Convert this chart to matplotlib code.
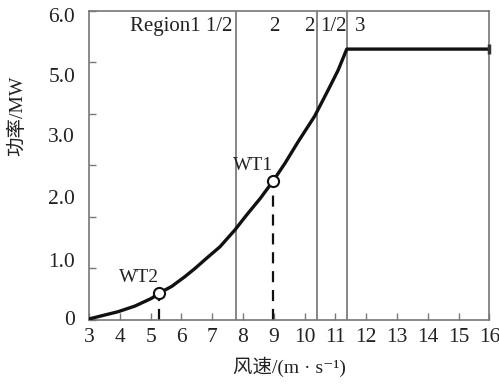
import matplotlib
matplotlib.use("Agg")
import matplotlib.pyplot as plt

plt.rcParams['font.family'] = ['Liberation Serif', 'Noto Sans CJK SC', 'DejaVu Sans']

# data
wind = [3.0, 3.40, 3.94, 4.49, 5.03, 5.27, 5.68, 6.11, 6.44, 6.82, 7.25, 7.74, 8.12,
        8.56, 8.98, 9.36, 9.79, 10.33, 10.77, 11.09, 11.37, 16.0]
power = [0.02, 0.08, 0.16, 0.27, 0.42, 0.52, 0.65, 0.84, 1.00, 1.20, 1.42, 1.75, 2.04,
         2.36, 2.70, 3.04, 3.46, 3.96, 4.47, 4.85, 5.26, 5.26]
region_bounds = [7.77, 10.39, 11.39]
pts_x = [5.27, 8.98]
pts_y = [0.52, 2.70]
pts_lab = ['WT2', 'WT1']
xticks = list(range(3, 17))
ytick_marks = [0, 1, 2, 3, 4, 5, 6]
ylab_pos = [0.04, 1.17, 2.39, 3.59, 4.76, 5.93]
ylab_txt = ['0', '1.0', '2.0', '3.0', '5.0', '6.0']
region_txt = [('Region1 1/2', 7.64, 'right'), ('2', 9.03, 'center'), ('2', 10.17, 'center'),
              ('1/2', 10.95, 'center'), ('3', 11.8, 'center')]

fig = plt.figure(figsize=(4.99, 3.84), dpi=100)
ax = fig.add_axes([0.1784, 0.1667, 0.9806 - 0.1784, 0.9714 - 0.1667])

spine_c = '#777777'
txt_c = '#222222'
for s in ax.spines.values():
    s.set_color(spine_c)
    s.set_linewidth(1.2)

for xb in region_bounds:
    ax.axvline(xb, color='#666666', lw=1.1, zorder=1)

ax.plot(wind, power, color='#111111', lw=2.4, zorder=3, solid_joinstyle='round')
ax.plot([wind[-1]], [power[-1]], marker='|', ms=7, mew=2.5, color='#333333', zorder=4, clip_on=False)

for x, y, lab in zip(pts_x, pts_y, pts_lab):
    ax.plot([x, x], [0, y], color='#111111', lw=1.6, ls=(0, (5, 3.5)), zorder=2)
    ax.plot([x], [y], marker='o', ms=8, mfc='white', mec='#111111', mew=1.5, zorder=5)
    ax.text(x - 0.64, y + 0.30, lab, fontsize=14, ha='center', va='center', color=txt_c)

for txt, x, ha in region_txt:
    ax.text(x, 5.69, txt, fontsize=15, ha=ha, va='center', color=txt_c)

ax.set_xlim(3, 16)
ax.set_ylim(0, 6)
ax.set_xticks(xticks)
ax.set_xticklabels([str(v) for v in xticks])
ax.set_yticks(ytick_marks)
ax.set_yticklabels([])
ax.set_yticks(ylab_pos, minor=True)
ax.set_yticklabels(ylab_txt, minor=True)
ax.tick_params(axis='both', which='major', direction='in', length=5, width=1, color=spine_c,
               labelsize=15.5, labelcolor=txt_c)
ax.tick_params(axis='y', which='minor', length=0, labelsize=15.5, labelcolor=txt_c, pad=10)
ax.tick_params(axis='x', which='major', pad=6)

ax.set_xlabel('风速/(m · s⁻¹)', fontsize=14, color=txt_c)
ax.xaxis.set_label_coords(0.50, -0.152)
ax.xaxis.label.set_va('center')
ax.set_ylabel('功率/MW', fontsize=14, color=txt_c)
ax.yaxis.set_label_coords(-0.18, 0.66)
ax.yaxis.label.set_va('center')

fig.savefig('out.png', dpi=100)
